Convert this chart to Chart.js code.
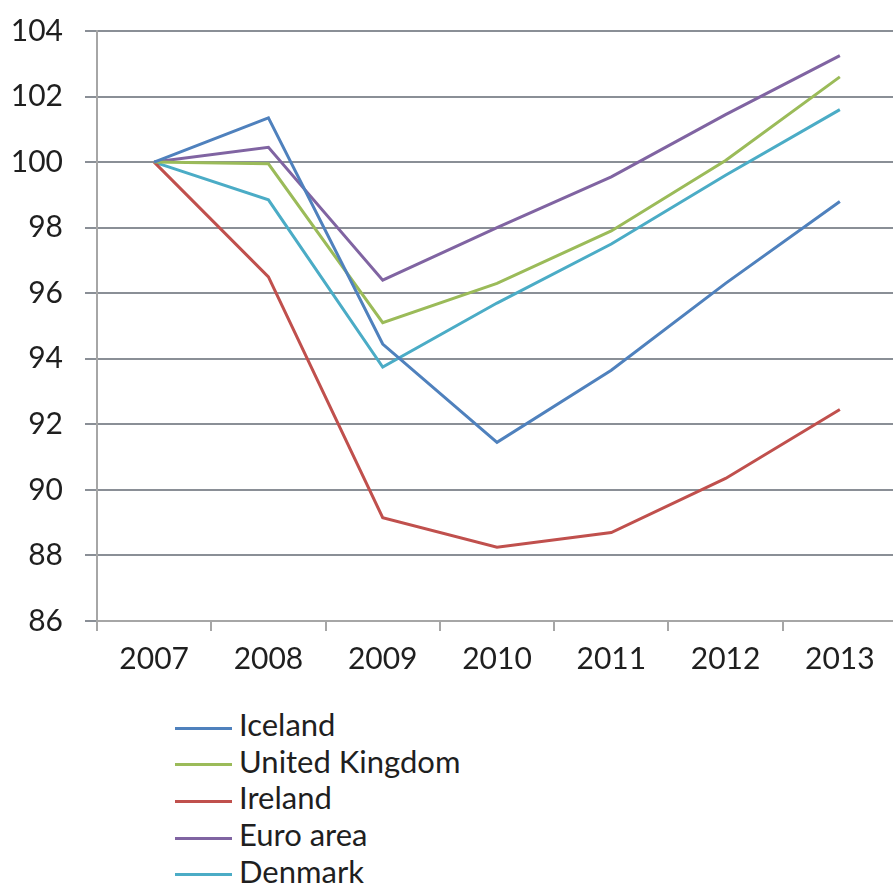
<!DOCTYPE html>
<html>
<head>
<meta charset="utf-8">
<script src="https://cdn.jsdelivr.net/npm/chart.js@4/dist/chart.umd.min.js"></script>
<style>
  html, body { margin: 0; padding: 0; background: #fff; overflow: hidden; }
  #wrap { position: relative; width: 897px; height: 886px; }
  #chartBox { position: absolute; left: 0; top: 0; width: 897px; height: 700px; }
  #legend { position: absolute; left: 175px; top: 706px; font-family: Lato, 'Open Sans', sans-serif; font-size: 31px; color: #1f1f1f; }
  #legend div { height: 36.7px; line-height: 36.7px; white-space: nowrap; }
  #legend span.swatch { display: inline-block; width: 57px; height: 3px; vertical-align: middle; margin-right: 7px; }
</style>
</head>
<body>
<div id="wrap">
  <div id="chartBox"><canvas id="chart"></canvas></div>
  <div id="legend"></div>
</div>
<script>
const years = ['2007', '2008', '2009', '2010', '2011', '2012', '2013']
const iceland = [100, 101.35, 94.45, 91.45, 93.65, 96.3, 98.8]
const unitedKingdom = [100, 99.95, 95.1, 96.3, 97.9, 100.05, 102.6]
const ireland = [100, 96.5, 89.15, 88.25, 88.7, 90.35, 92.45]
const euroArea = [100, 100.45, 96.4, 98.0, 99.55, 101.45, 103.25]
const denmark = [100, 98.85, 93.75, 95.7, 97.5, 99.6, 101.6]

const seriesNames = ['Iceland', 'United Kingdom', 'Ireland', 'Euro area', 'Denmark']
const seriesColors = ['#4F81BD', '#9BBB59', '#C0504D', '#8064A2', '#4BACC6']
const seriesData = [iceland, unitedKingdom, ireland, euroArea, denmark]

const yMin = 86
const yMax = 104
const yStep = 2

const font = { family: "Lato, 'Open Sans', sans-serif", size: 30 }

const chart = new Chart(document.getElementById('chart'), {
  type: 'line',
  data: {
    labels: years,
    datasets: seriesNames.map((name, i) => ({
      label: name,
      data: seriesData[i],
      borderColor: seriesColors[i],
      backgroundColor: seriesColors[i],
      borderWidth: 3,
      pointRadius: 0,
      tension: 0
    }))
  },
  options: {
    responsive: true,
    maintainAspectRatio: false,
    animation: false,
    layout: { padding: { left: 0, top: 31, right: 0, bottom: 13 } },
    plugins: {
      legend: { display: false },
      tooltip: { enabled: false }
    },
    scales: {
      x: {
        offset: true,
        grid: {
          offset: true,
          drawOnChartArea: false,
          drawTicks: true,
          tickLength: 10,
          color: '#a6a6a6',
          lineWidth: 2
        },
        border: { color: '#a6a6a6', width: 2 },
        ticks: { color: '#1f1f1f', font, padding: 10, maxRotation: 0 }
      },
      y: {
        min: yMin,
        max: yMax,
        grid: {
          color: '#8a8f96',
          lineWidth: 2,
          tickLength: 12
        },
        border: { color: '#a6a6a6', width: 2 },
        ticks: { stepSize: yStep, color: '#1f1f1f', font, padding: 22 },
        // fixed axis width like the original, no extra label overhang at top
        afterFit: (scale) => {
          scale.width = 97
          scale.paddingTop = 0
          scale.paddingBottom = 0
        }
      }
    }
  }
})

// Vertical legend under the chart, built from the datasets
const legendEl = document.getElementById('legend')
chart.data.datasets.forEach((ds) => {
  const row = document.createElement('div')
  const sw = document.createElement('span')
  sw.className = 'swatch'
  sw.style.background = ds.borderColor
  row.appendChild(sw)
  row.appendChild(document.createTextNode(ds.label))
  legendEl.appendChild(row)
})
</script>
</body>
</html>
